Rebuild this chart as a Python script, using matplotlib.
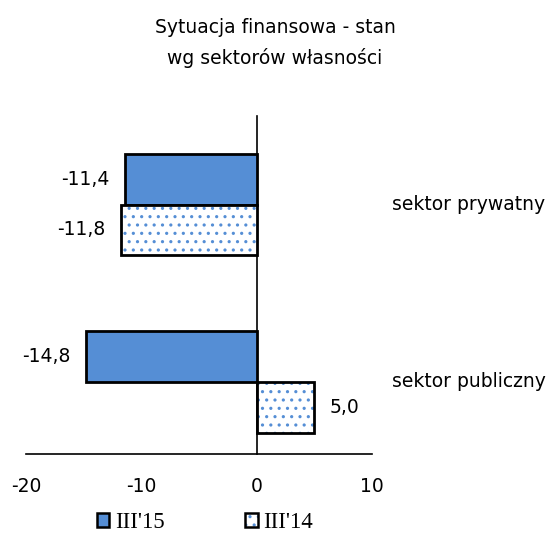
import matplotlib.pyplot as plt
import matplotlib.transforms as mtransforms
from matplotlib.patches import Patch
from matplotlib.legend_handler import HandlerTuple
import numpy as np

#=============================================================================#
## data
categories = ['sektor prywatny', 'sektor publiczny']
series_names = ["III'15", "III'14"]
vals_15 = [-11.4, -14.8]
vals_14 = [-11.8, 5.0]
xticks = [-20, -10, 0, 10]

#=============================================================================#
## style
blue = '#558ed5'
fs = 13.5
bar_h = 0.285
plt.rcParams['font.family'] = ['DejaVu Sans']
plt.rcParams['hatch.linewidth'] = 1.1

fig = plt.figure(figsize=(5.5, 5.37), dpi=100)
ax = fig.add_axes([26/550, 1-453.6/537, 346/550, (453.6-116)/537])

y = np.arange(len(categories))
# III'15 solid bars
ax.barh(y - bar_h/2, vals_15, height=bar_h, color=blue, edgecolor='black', linewidth=2, zorder=3)
# III'14 dotted bars: blue dots on white, then black outline on top
ax.barh(y + bar_h/2, vals_14, height=bar_h, color='white', edgecolor=blue, hatch='..', linewidth=0, zorder=3)
ax.barh(y + bar_h/2, vals_14, height=bar_h, fill=False, edgecolor='black', linewidth=2, zorder=4)

# value labels
for yy, v in zip(y - bar_h/2, vals_15):
    ax.annotate(('%.1f' % v).replace('.', ','), (v, yy), xytext=(-11 if v < 0 else 11, 0),
                textcoords='offset points', ha='right' if v < 0 else 'left', va='center', fontsize=fs)
for yy, v in zip(y + bar_h/2, vals_14):
    ax.annotate(('%.1f' % v).replace('.', ','), (v, yy), xytext=(-11 if v < 0 else 11, 0),
                textcoords='offset points', ha='right' if v < 0 else 'left', va='center', fontsize=fs)

# category labels on the right
trans = mtransforms.blended_transform_factory(ax.transAxes, ax.transData)
for yy, c in zip(y, categories):
    ax.text(1.058, yy, c, transform=trans, ha='left', va='center', fontsize=fs)

ax.set_xlim(-20, 10)
ax.set_ylim(1.404, -0.5)
ax.set_xticks(xticks)
ax.set_xticklabels([str(t) for t in xticks], fontsize=fs)
ax.tick_params(axis='x', length=0, pad=17)
ax.set_yticks([])
ax.spines['top'].set_visible(False)
ax.spines['right'].set_visible(False)
ax.spines['left'].set_position(('data', 0))
ax.spines['left'].set_linewidth(1.2)
ax.spines['bottom'].set_linewidth(1.2)

fig.text(0.5, 1-28/537, 'Sytuacja finansowa - stan', ha='center', va='center', fontsize=fs)
fig.text(0.5, 1-58/537, 'wg sektorów własności', ha='center', va='center', fontsize=fs)

h15 = Patch(facecolor=blue, edgecolor='black', linewidth=1.8)
h14 = (Patch(facecolor='white', edgecolor=blue, hatch='..', linewidth=0),
       Patch(fill=False, edgecolor='black', linewidth=1.8))
fig.legend([h15, h14], series_names, ncol=2, loc='center', bbox_to_anchor=(205/550, 1-523/537),
           frameon=False, prop={'family': 'Liberation Serif', 'size': 16.5},
           handlelength=0.55, handleheight=0.55, handletextpad=0.25, columnspacing=3.5,
           handler_map={tuple: HandlerTuple(ndivide=1)})

plt.savefig('out.png', dpi=100)
